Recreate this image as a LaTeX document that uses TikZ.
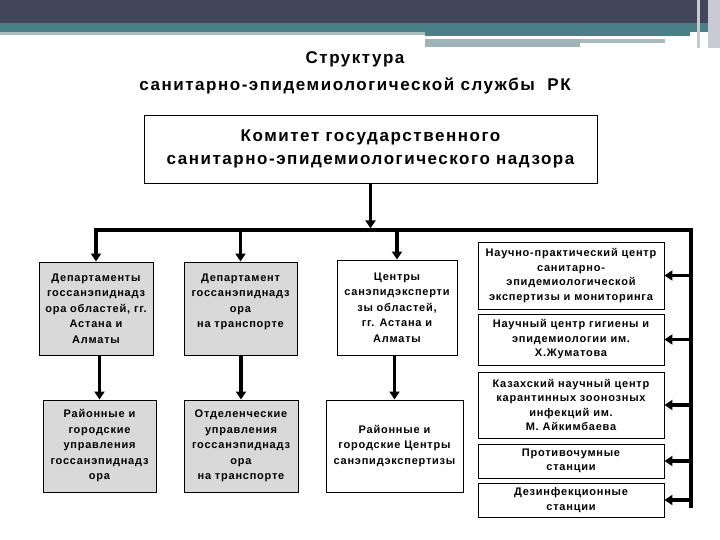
\documentclass[tikz,border=0pt]{standalone}
\usepackage{fontspec}
\setmainfont{Liberation Sans}
\newfontfamily\boxfont[LetterSpace=7]{Liberation Sans}
\newfontfamily\headfont[LetterSpace=9]{Liberation Sans}
\usetikzlibrary{arrows.meta,positioning,calc}

\definecolor{bandDark}{HTML}{43465A}
\definecolor{bandTeal}{HTML}{4A7F88}
\definecolor{bandPale}{HTML}{A9BBBE}
\definecolor{bandGrey}{HTML}{9FB4B7}
\definecolor{edgeGrey}{HTML}{C9C9D4}

\begin{document}
\begin{tikzpicture}[
    x=1pt,y=-1pt,
    >={Triangle[length=8pt,width=10pt]},
    link/.style={->,line width=3.2pt,draw=black},
    unit/.style={draw=black,line width=0.9pt,fill=white,align=center,
      inner sep=2pt,font=\boxfont\bfseries\fontsize{11}{15.5}\selectfont},
    office/.style={unit,fill=black!15},
    centre/.style={unit,font=\boxfont\bfseries\fontsize{11}{14.5}\selectfont,
      minimum width=186pt},
    head/.style={font=\headfont\bfseries\fontsize{17}{27}\selectfont,align=center}
  ]
    \useasboundingbox (0,0) rectangle (720,540);
    \fill[white] (0,0) rectangle (720,540);

    % slide header
    \fill[bandDark] (0,0) rectangle (720,23);
    \fill[bandTeal] (0,23) rectangle (720,32);
    \fill[bandPale] (0,32) rectangle (425,35);
    \fill[bandTeal] (425,32) rectangle (690,36);
    \fill[bandGrey] (425,39) rectangle (580,47);
    \fill[bandPale] (580,39) rectangle (665,43);
    \fill[edgeGrey] (697,0) rectangle (700,48);
    \fill[edgeGrey] (708,0) rectangle (720,48);

    \node[head] (title) at (355,73)
      {Структура\\санитарно-эпидемиологической службы~~РК};

    \node[unit,minimum width=453pt,minimum height=68pt,
      font=\headfont\bfseries\fontsize{17}{23}\selectfont] (kom) at (370.5,149)
      {Комитет государственного\\санитарно-эпидемиологического надзора};

    % first level
    \node[office,minimum width=114pt,minimum height=93pt] (depObl) at (96,308.5)
      {Департаменты\\госсанэпиднадз\\ора областей, гг.\\Астана и\\Алматы};
    \node[office,minimum width=113pt,minimum height=93pt] (depTr) at (240.5,308.5)
      {Департамент\\госсанэпиднадз\\ора\\на транспорте\\\mbox{}};
    \node[unit,minimum width=120pt,minimum height=95pt] (cenObl) at (397,307.5)
      {Центры\\санэпидэксперти\\зы областей,\\гг. Астана и\\Алматы};

    % second level
    \node[office,minimum width=113pt,minimum height=92pt] (uprRay) at (99.5,446)
      {Районные и\\городские\\управления\\госсанэпиднадз\\ора};
    \node[office,minimum width=114pt,minimum height=92pt] (otdTr) at (241,446)
      {Отделенческие\\управления\\госсанэпиднадз\\ора\\на транспорте};
    \node[unit,minimum width=137pt,minimum height=92pt] (cenRay) at (394.5,446)
      {Районные и\\городские Центры\\санэпидэкспертизы};

    % research centres
    \node[centre,minimum height=67pt] (npc) at (571,275.5)
      {Научно-практический центр\\санитарно-\\эпидемиологической\\экспертизы и мониторинга};
    \node[centre,minimum height=51pt] (ncg) at (571,339.5)
      {Научный центр гигиены и\\эпидемиологии им.\\Х.Жуматова};
    \node[centre,minimum height=66pt] (kncz) at (571,405)
      {Казахский научный центр\\карантинных зоонозных\\инфекций им.\\М. Айкимбаева};
    \node[centre,minimum height=34pt] (pcs) at (571,461)
      {Противочумные\\станции};
    \node[centre,minimum height=34pt] (dzs) at (571,500)
      {Дезинфекционные\\станции};

    \coordinate (busR) at (691,230);
    \coordinate (busB) at (691,508);

    \draw[link,shorten >=1.6pt] (kom) -- (kom.south |- busR);
    \draw[link] (busB) -- (busR) -| (depObl);
    \draw[link] (depTr.north |- busR) -- (depTr);
    \draw[link] (cenObl.north |- busR) -- (cenObl);

    \draw[link] (uprRay.north |- depObl.south) -- (uprRay);
    \draw[link] (otdTr.north |- depTr.south) -- (otdTr);
    \draw[link] (cenRay.north |- cenObl.south) -- (cenRay);

    \foreach \c in {npc,ncg,kncz,pcs,dzs}
      \draw[link] (busR |- \c.east) -- (\c.east);
  \end{tikzpicture}
\end{document}
